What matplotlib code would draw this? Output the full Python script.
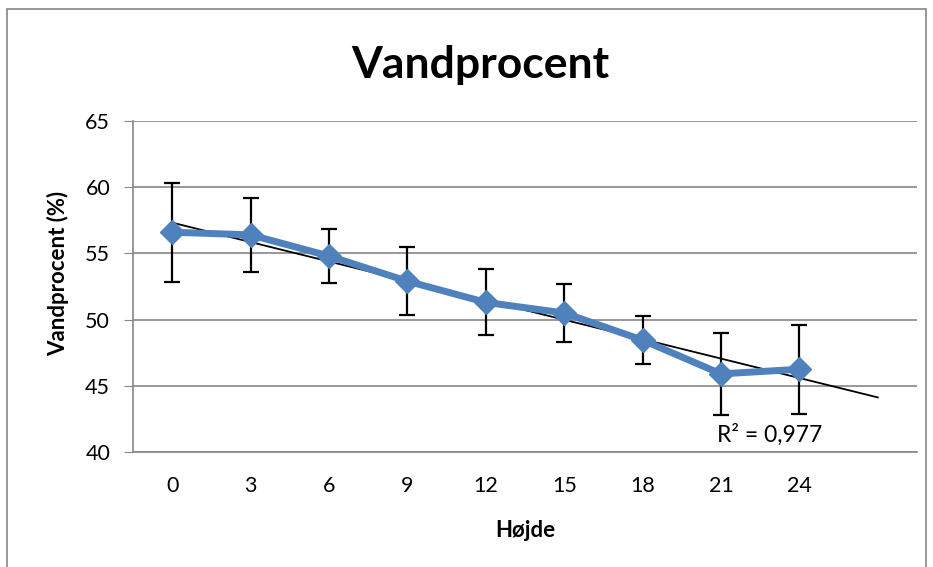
import numpy as np
import matplotlib
matplotlib.use("Agg")
import matplotlib.pyplot as plt
from matplotlib.patches import Rectangle

# ── Data ────────────────────────────────────────────────────────────────
hojde = [0, 3, 6, 9, 12, 15, 18, 21, 24]
vandprocent = [56.6, 56.4, 54.8, 52.9, 51.3, 50.5, 48.45, 45.9, 46.25]
fejl = [3.75, 2.8, 2.05, 2.55, 2.5, 2.2, 1.8, 3.1, 3.35]
r2_label = "R² = 0,977"

BLUE = "#4F81BD"
GRID = "#868686"
plt.rcParams["font.family"] = ["Lato", "DejaVu Sans"]

# ── Plot ────────────────────────────────────────────────────────────────
fig = plt.figure(figsize=(9.33, 5.67), dpi=100)
fig.patch.set_facecolor("white")
fig.patches.append(Rectangle((0.007, -0.01), 0.985, 0.994, transform=fig.transFigure,
                             fill=False, edgecolor=GRID, lw=1.2))

ax = fig.add_axes([0.1426, 0.2028, 0.8403, 0.5838])

# linear trendline, forecast one step forward
coef = np.polyfit(hojde, vandprocent, 1)
xt = np.array([hojde[0], hojde[-1] + 3])
ax.plot(xt, np.polyval(coef, xt), color="black", lw=1.3, zorder=4)

ax.errorbar(hojde, vandprocent, yerr=fejl, fmt="none", ecolor="black",
            elinewidth=1.6, capsize=5.5, capthick=1.6, zorder=3)
ax.plot(hojde, vandprocent, color=BLUE, lw=5, marker="D", markersize=12,
        markerfacecolor=BLUE, markeredgecolor=BLUE, zorder=5)

ax.text(20.85, 41.3, r2_label, fontsize=16.5, va="center", ha="left")

ax.set_xlim(-1.5, 28.5)
ax.set_ylim(40, 65)
ax.set_yticks(range(40, 66, 5))
ax.set_xticks(hojde)
ax.tick_params(axis="y", length=6.5, color=GRID, labelsize=15.5, pad=10)
ax.tick_params(axis="x", length=0, labelsize=15.5, pad=17)

ax.grid(axis="y", color=GRID, lw=1.2)
ax.set_axisbelow(True)
for s in ["top", "right"]:
    ax.spines[s].set_visible(False)
ax.spines["left"].set_color(GRID)
ax.spines["bottom"].set_color(GRID)
ax.spines["left"].set_linewidth(1.2)
ax.spines["bottom"].set_linewidth(1.2)

ax.set_xlabel("Højde", fontsize=16, fontweight="bold")
ax.xaxis.set_label_coords(0.5, -0.205)
ax.set_ylabel("Vandprocent (%)", fontsize=16, fontweight="bold")
ax.yaxis.set_label_coords(-0.081, 0.54)
fig.text(0.515, 0.885, "Vandprocent", fontsize=32, fontweight="bold",
         ha="center", va="center")

fig.savefig("out.png", dpi=100)
